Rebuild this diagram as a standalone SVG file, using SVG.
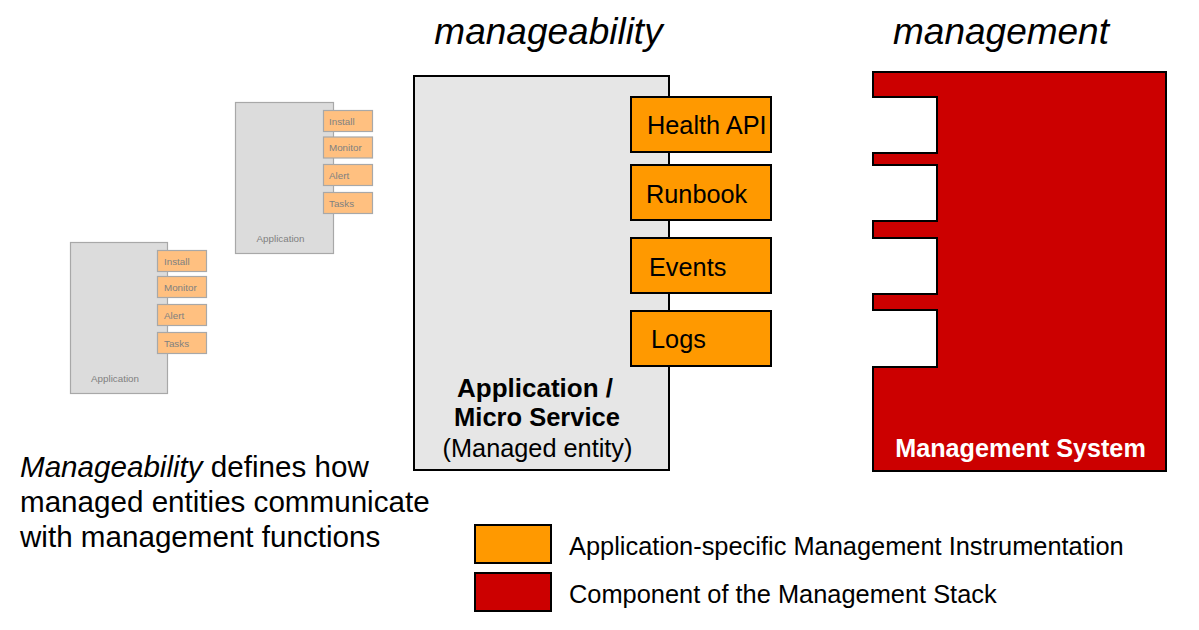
<svg xmlns="http://www.w3.org/2000/svg" width="1199" height="630" viewBox="0 0 1199 630">
<style>
text{font-family:"Liberation Sans",Arial,sans-serif;}
.sbox{fill:#dcdcdc;stroke:#a8a8a8;stroke-width:1.2;}
.sorg{fill:#ffc080;stroke:#a8a8a8;stroke-width:1.2;}
.stxt{font-size:9.8px;fill:#808080;}
.org{fill:#ff9900;stroke:#000;stroke-width:2;}
.otxt{font-size:25.3px;fill:#000;}
.title{font-size:37px;font-style:italic;fill:#000;}
.body{font-size:29.6px;fill:#000;}
.leg{font-size:25.4px;fill:#000;}
</style>
<rect width="1199" height="630" fill="#fff"/>
<g id="titles">
<text class="title" x="548.5" y="44" text-anchor="middle">manageability</text>
<text class="title" x="1001" y="44" text-anchor="middle">management</text>
</g>
<g id="small-app-1">
<rect class="sbox" x="235.5" y="102.5" width="98" height="151"/>
<rect class="sorg" x="323.5" y="110.5" width="49" height="21"/>
<rect class="sorg" x="323.5" y="137" width="49" height="21"/>
<rect class="sorg" x="323.5" y="164.5" width="49" height="21"/>
<rect class="sorg" x="323.5" y="192.5" width="49" height="21"/>
<text class="stxt" x="329" y="124.5">Install</text>
<text class="stxt" x="329" y="151">Monitor</text>
<text class="stxt" x="329" y="178.5">Alert</text>
<text class="stxt" x="329" y="206.5">Tasks</text>
<text class="stxt" x="280.5" y="241.5" text-anchor="middle">Application</text>
</g>
<g id="small-app-2">
<rect class="sbox" x="70.5" y="242.5" width="97" height="151"/>
<rect class="sorg" x="157.5" y="250.5" width="49" height="21"/>
<rect class="sorg" x="157.5" y="276.5" width="49" height="21"/>
<rect class="sorg" x="157.5" y="304.5" width="49" height="21"/>
<rect class="sorg" x="157.5" y="332.5" width="49" height="21"/>
<text class="stxt" x="164" y="264.5">Install</text>
<text class="stxt" x="164" y="290.5">Monitor</text>
<text class="stxt" x="164" y="318.5">Alert</text>
<text class="stxt" x="164" y="346.5">Tasks</text>
<text class="stxt" x="115" y="381.5" text-anchor="middle">Application</text>
</g>
<g id="app-micro-service">
<rect x="414" y="76" width="255" height="394" fill="#e6e6e6" stroke="#000" stroke-width="2"/>
<text x="535" y="397" text-anchor="middle" font-size="26" font-weight="bold">Application /</text>
<text x="537" y="426" text-anchor="middle" font-size="25.5" font-weight="bold">Micro Service</text>
<text x="537.5" y="457" text-anchor="middle" font-size="25.3">(Managed entity)</text>
</g>
<g id="health-api">
<rect class="org" x="631" y="97" width="140" height="55"/>
<text class="otxt" x="647" y="134">Health API</text>
</g>
<g id="runbook">
<rect class="org" x="631" y="165" width="140" height="55"/>
<text class="otxt" x="646" y="203">Runbook</text>
</g>
<g id="events">
<rect class="org" x="631" y="238" width="140" height="55"/>
<text class="otxt" x="649" y="276">Events</text>
</g>
<g id="logs">
<rect class="org" x="631" y="311" width="140" height="55"/>
<text class="otxt" x="651" y="348">Logs</text>
</g>
<g id="management-system">
<path d="M873,72 H1166 V471 H873 V367 H937 V310 H873 V294 H937 V238 H873 V221 H937 V165 H873 V153 H937 V97 H873 Z" fill="#cc0000" stroke="#000" stroke-width="2" stroke-linejoin="miter"/>
<text x="1020.5" y="457" text-anchor="middle" font-size="25.2" font-weight="bold" fill="#fff">Management System</text>
</g>
<g id="caption">
<text class="body" x="20" y="477"><tspan font-style="italic">Manageability</tspan> defines how</text>
<text class="body" x="20" y="512">managed entities communicate</text>
<text class="body" x="20" y="547">with management functions</text>
</g>
<g id="legend">
<rect x="475" y="525" width="76" height="38" fill="#ff9900" stroke="#000" stroke-width="2"/>
<text class="leg" x="569" y="555">Application-specific Management Instrumentation</text>
<rect x="475" y="573" width="76" height="38" fill="#cc0000" stroke="#000" stroke-width="2"/>
<text class="leg" x="569" y="603">Component of the Management Stack</text>
</g>
</svg>
